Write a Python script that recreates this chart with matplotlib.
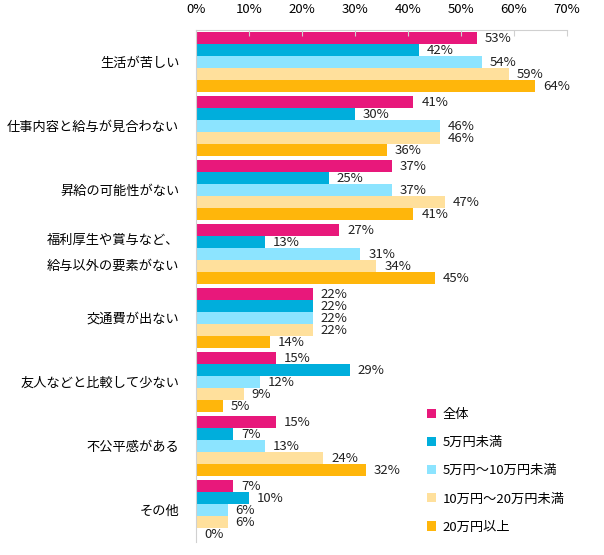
import matplotlib
matplotlib.use('Agg')
import matplotlib.pyplot as plt
import matplotlib.transforms as mtransforms
import numpy as np

plt.rcParams['font.family'] = ['Noto Sans CJK JP', 'DejaVu Sans']

categories = ['生活が苦しい', '仕事内容と給与が見合わない', '昇給の可能性がない',
              '福利厚生や賞与など、\n給与以外の要素がない', '交通費が出ない',
              '友人などと比較して少ない', '不公平感がある', 'その他']
series_names = ['全体', '5万円未満', '5万円～10万円未満', '10万円～20万円未満', '20万円以上']
zentai = [53, 41, 37, 27, 22, 15, 15, 7]
under5 = [42, 30, 25, 13, 22, 29, 7, 10]
from5to10 = [54, 46, 37, 31, 22, 12, 13, 6]
from10to20 = [59, 46, 47, 34, 22, 9, 24, 6]
over20 = [64, 36, 41, 45, 14, 5, 32, 0]
series = [zentai, under5, from5to10, from10to20, over20]
colors = ['#E8187B', '#00AEDC', '#8CE4FF', '#FFE09C', '#FFB60B']
xticks = [0, 10, 20, 30, 40, 50, 60, 70]

fig = plt.figure(figsize=(6.04, 5.55), dpi=100)
ax = fig.add_axes([196/604, 1-542/555, 371/604, 512/555])

n = len(series)
bh = 0.9375 / n
y = np.arange(len(categories))
for i, (vals, c, name) in enumerate(zip(series, colors, series_names)):
    pos = y - 0.9375/2 + bh*(i+0.5)
    ax.barh(pos, vals, height=bh, color=c, label=name, linewidth=0)
    for p, v in zip(pos, vals):
        ax.text(v + 1.5, p, f'{v}%', va='center', ha='left', fontsize=9.5, color='#222222')

ax.set_xlim(0, 70)
ax.set_ylim(len(categories) - 0.5, -0.5)
ax.set_yticks(y)
ax.set_yticklabels(categories, fontsize=9.5, linespacing=2.3)
ax.tick_params(axis='y', length=0, pad=12)
# the two-line label sits a little above its group centre
for lab in ax.get_yticklabels():
    if '\n' in lab.get_text():
        lab.set_transform(lab.get_transform() +
                          mtransforms.ScaledTranslation(0, 6/72, fig.dpi_scale_trans))
ax.xaxis.tick_top()
ax.set_xticks(xticks)
ax.set_xticklabels([f'{t}%' for t in xticks], fontsize=9.5)
ax.tick_params(axis='x', direction='in', length=4, color='#d0d0d0', pad=10)
for s in ['right', 'bottom']:
    ax.spines[s].set_visible(False)
for s in ['left', 'top']:
    ax.spines[s].set_color('#d0d0d0')

leg = ax.legend(loc='upper left', bbox_to_anchor=(0.59, 0.285), frameon=False,
                fontsize=9.5, handlelength=0.7, handleheight=0.7, labelspacing=1.15,
                handletextpad=0.5)

fig.savefig('out.png', dpi=100)
